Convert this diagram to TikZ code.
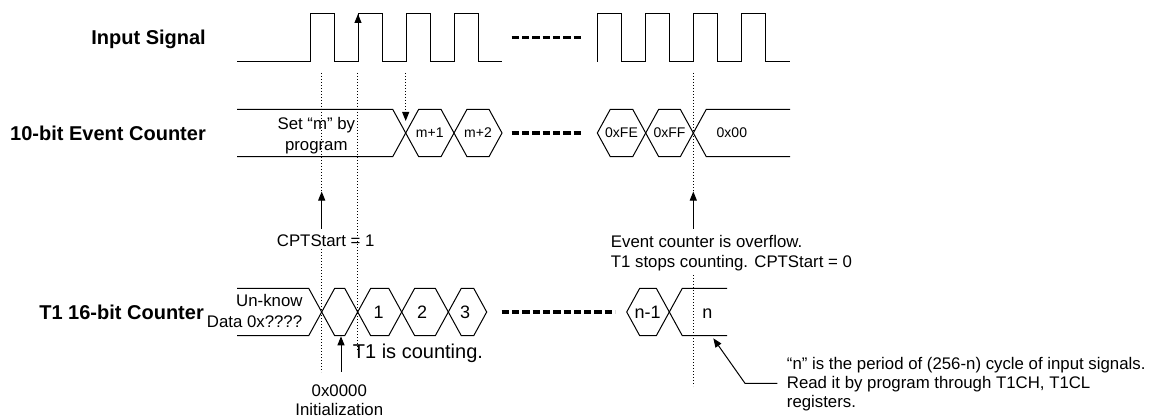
\documentclass[tikz,border=0pt]{standalone}
\usepackage{fontspec}
\setmainfont{Liberation Sans}
\usetikzlibrary{arrows.meta}
\tikzset{
  sig/.style={line width=1pt, line join=miter},
  dotline/.style={line width=1pt, dash pattern=on 1.3pt off 1.7pt},
  gapline/.style={line width=3.5pt, dash pattern=on 7.3pt off 3pt},
  arr/.style={line width=1pt, -{Triangle[length=9pt,width=7pt]}},
  dotarr/.style={dotline, -{Triangle[length=9pt,width=7pt]}},
  rowlbl/.style={font=\fontsize{20}{24}\selectfont\bfseries, inner sep=0pt},
  txt/.style={font=\fontsize{16.8}{19}\selectfont, inner sep=0pt},
  hexlbl/.style={font=\fontsize{14}{16}\selectfont, inner sep=0pt},
  numlbl/.style={font=\fontsize{18}{20}\selectfont, inner sep=0pt},
  bigtxt/.style={font=\fontsize{20}{24}\selectfont, inner sep=0pt},
}
\begin{document}
\begin{tikzpicture}[x=1pt,y=-1pt]
\fill[white] (0,0) rectangle (1153,417);
\useasboundingbox (0,0) rectangle (1153,417);

% row labels
\node[rowlbl, anchor=base east] (lin) at (206,44.5) {Input Signal};
\node[rowlbl, anchor=base east] (lev) at (206,140) {10-bit Event Counter};
\node[rowlbl, anchor=base east] (lt1) at (204,319) {T1 16-bit Counter};

% input signal
\draw[sig] (237,62) -- (310,62) -- (310,14) -- (334,14) -- (334,62) -- (358,62) -- (358,14)
  -- (382,14) -- (382,62) -- (406,62) -- (406,14) -- (430,14) -- (430,62) -- (454,62)
  -- (454,14) -- (478,14) -- (478,62) -- (502,62);
\draw[sig] (597,62) -- (597,14) -- (621,14) -- (621,62) -- (645,62) -- (645,14) -- (669,14)
  -- (669,62) -- (693,62) -- (693,14) -- (717,14) -- (717,62) -- (741,62) -- (741,14)
  -- (765,14) -- (765,62) -- (790,62);
\coordinate (edgeLow) at (358,62);
\coordinate (edgeHigh) at (358,14);
\draw[arr] (edgeLow) -- (edgeHigh);
\draw[gapline] (511.7,37.5) -- (583,37.5);

% event counter
\draw[sig] (237,109.3) -- (392.7,109.3) -- (405.7,133) -- (392.7,156.7) -- (237,156.7);
\foreach \a/\b in {405.7/454, 454/502, 597.3/645.7, 645.7/693.3}
  \draw[sig] (\a,133) -- (\a+13,109.3) -- (\b-13,109.3) -- (\b,133) -- (\b-13,156.7) -- (\a+13,156.7) -- cycle;
\draw[sig] (790,109.3) -- (706.3,109.3) -- (693.3,133) -- (706.3,156.7) -- (790,156.7);
\draw[gapline] (511.7,133) -- (583,133);
\node[txt, anchor=base] (setm) at (316.3,130) {Set “m” by};
\node[txt, anchor=base] (prog) at (316.3,150) {program};
\node[hexlbl, anchor=base] (m1) at (429.8,138) {m+1};
\node[hexlbl, anchor=base] (m2) at (478,138) {m+2};
\node[hexlbl, anchor=base] (fe) at (621.5,138) {0xFE};
\node[hexlbl, anchor=base] (ff) at (669.5,138) {0xFF};
\node[hexlbl, anchor=base west] (x00) at (716.5,138) {0x00};

% T1 counter
\draw[sig] (237,288.3) -- (308.7,288.3) -- (321.7,312) -- (308.7,335.7) -- (237,335.7);
\foreach \a/\b in {321.7/357.7, 357.7/401.7, 401.7/448.3, 448.3/486.7, 626.7/669.3}
  \draw[sig] (\a,312) -- (\a+13,288.3) -- (\b-13,288.3) -- (\b,312) -- (\b-13,335.7) -- (\a+13,335.7) -- cycle;
\draw[sig] (727,288.3) -- (682.3,288.3) -- (669.3,312) -- (682.3,335.7) -- (727,335.7);
\draw[gapline] (501.7,312) -- (615,312);
\node[txt, anchor=base west] (unk) at (236,306.7) {Un-know};
\node[txt, anchor=base west] (dat) at (206.7,327.3) {Data 0x????};
\node[numlbl, anchor=base] (c1) at (378.5,318) {1};
\node[numlbl, anchor=base] (c2) at (422,318) {2};
\node[numlbl, anchor=base] (c3) at (465,318) {3};
\node[numlbl, anchor=base] (cn1) at (647.5,318) {n-1};
\node[numlbl, anchor=base] (cn) at (707.3,318) {n};

% dotted guide lines
\draw[dotline] (321.7,73) -- (321.7,192);
\draw[dotline] (321.7,249) -- (321.7,372);
\draw[dotline] (357.7,73) -- (357.7,350);
\draw[dotarr] (405.7,73) -- (405.7,121);
\draw[dotline] (693.3,73) -- (693.3,192);
\draw[dotline] (693.3,275) -- (693.3,386);

% CPTStart = 1
\node[txt, anchor=base west] (cpt) at (276.7,246.7) {CPTStart = 1};
\coordinate (cptFoot) at (321.7,228.5);
\coordinate (cptTip) at (321.7,191.5);
\draw[arr] (cptFoot) -- (cptTip);

% overflow
\node[txt, anchor=base west] (ovf1) at (610.7,247.7) {Event counter is overflow.};
\node[txt, anchor=base west] (ovf2) at (610.7,267.7) {T1 stops counting. CPTStart = 0};
\coordinate (ovfFoot) at (693.3,228.5);
\coordinate (ovfTip) at (693.3,191.5);
\draw[arr] (ovfFoot) -- (ovfTip);

% T1 is counting / initialization
\node[bigtxt, anchor=base west] (cnt) at (352.7,358.3) {T1 is counting.};
\node[txt, anchor=base] (zero) at (339.3,396.7) {0x0000};
\node[txt, anchor=base] (init) at (339.3,415.5) {Initialization};
\coordinate (initFoot) at (341,371.7);
\coordinate (initTip) at (341,336.3);
\draw[arr] (initFoot) -- (initTip);

% n explanation
\node[txt, anchor=base west] (n1) at (786.7,369.3) {“n” is the period of (256-n) cycle of input signals.};
\node[txt, anchor=base west] (n2) at (786.7,388.8) {Read it by program through T1CH, T1CL};
\node[txt, anchor=base west] (n3) at (786.7,407.5) {registers.};
\coordinate (nElbow) at (745,383.3);
\coordinate (nTip) at (713.3,338.3);
\draw[arr] (777.3,383.3) -- (nElbow) -- (nTip);
\end{tikzpicture}
\end{document}
